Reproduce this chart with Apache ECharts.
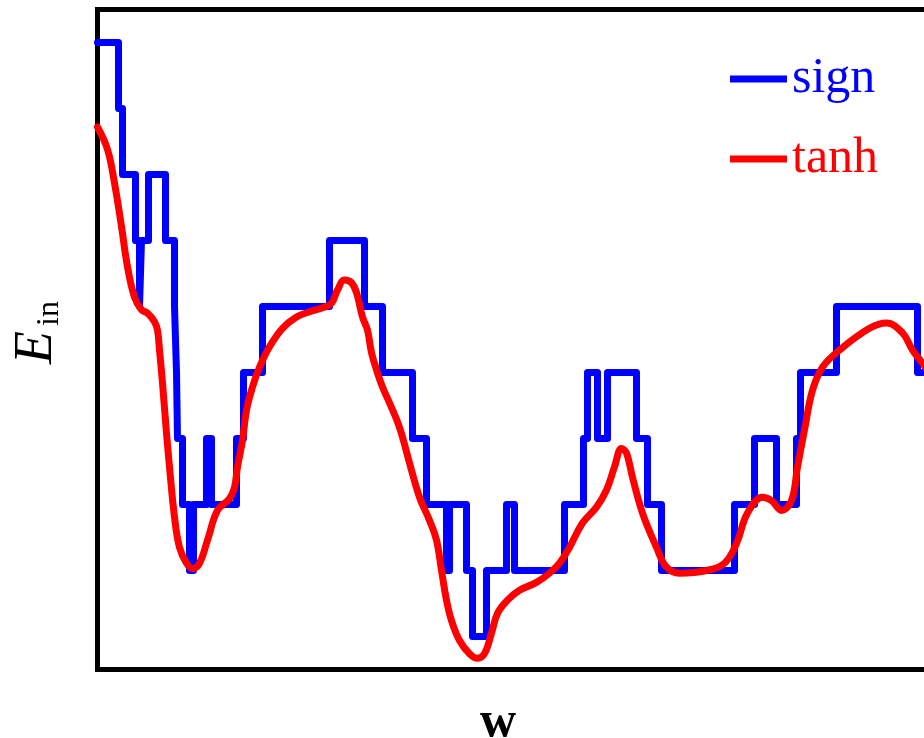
<!DOCTYPE html>
<html>
<head>
<meta charset="utf-8">
<script src="https://cdn.jsdelivr.net/npm/echarts@6/dist/echarts.min.js"></script>
<style>html,body{margin:0;padding:0;background:#fff}#c{width:924px;height:738px}</style>
</head>
<body>
<div id="c"></div>
<script>
// sign: step function, level starting at each w
const wSign = [0.00,0.21,0.25,0.38,0.42,0.44,0.51,0.68,0.77,0.79,0.80,0.85,0.92,0.96,1.09,1.14,1.39,1.46,1.65,2.32,2.67,2.85,3.15,3.29,3.49,3.52,3.69,3.75,3.89,4.09,4.17,4.67,4.86,4.90,5.00,5.10,5.39,5.50,5.64,6.37,6.57,6.79,6.99,7.03,7.39,8.20,8.62];
const eSign = [9,8,7,6,5,6,7,6,5,4,3,2,1,2,3,2,3,4,5,6,5,4,3,2,1,2,1,0,1,2,1,2,3,4,3,4,3,2,1,2,3,2,3,4,5,4,4];
// tanh: smooth curve
const wTanh = [0.00,0.10,0.17,0.24,0.30,0.37,0.44,0.50,0.57,0.60,0.62,0.65,0.69,0.72,0.77,0.82,0.89,0.95,1.02,1.10,1.20,1.32,1.37,1.40,1.45,1.49,1.55,1.62,1.72,1.85,1.99,2.12,2.25,2.34,2.40,2.47,2.54,2.59,2.65,2.70,2.74,2.79,2.85,2.92,3.02,3.12,3.22,3.32,3.39,3.44,3.49,3.54,3.62,3.72,3.80,3.87,3.94,4.00,4.10,4.22,4.39,4.52,4.62,4.72,4.85,4.99,5.09,5.17,5.24,5.29,5.35,5.45,5.59,5.69,5.82,6.09,6.27,6.39,6.50,6.65,6.74,6.84,6.94,7.00,7.07,7.15,7.25,7.42,7.72,7.89,8.05,8.15,8.25,8.37];
const eTanh = [7.72,7.38,6.87,6.21,5.60,5.14,4.95,4.90,4.77,4.64,4.34,3.84,3.08,2.57,1.81,1.35,1.11,1.03,1.11,1.46,1.91,2.09,2.26,2.57,2.97,3.43,3.78,4.08,4.39,4.67,4.84,4.92,4.98,5.05,5.25,5.40,5.36,5.21,4.84,4.64,4.30,4.04,3.78,3.54,3.17,2.63,2.11,1.76,1.46,1.00,0.55,0.24,-0.06,-0.26,-0.33,-0.26,0.05,0.35,0.55,0.70,0.82,0.96,1.11,1.35,1.72,1.96,2.22,2.57,2.85,2.78,2.41,1.87,1.35,1.05,0.96,1.00,1.11,1.41,1.87,2.11,2.06,1.91,2.06,2.57,3.13,3.73,4.08,4.34,4.67,4.75,4.60,4.34,4.14,3.89];

const chart = echarts.init(document.getElementById('c'), null, {renderer: 'canvas'});
const serif = 'Liberation Serif';
chart.setOption({
  animation: false,
  backgroundColor: '#fff',
  grid: {left: 97.5, top: 9.5, width: 862, height: 660, outerBoundsMode: 'none', containLabel: false,
         show: true, borderColor: '#000', borderWidth: 5, backgroundColor: 'transparent'},
  xAxis: {type: 'value', min: 0, max: 8.62, axisLine: {show: false}, axisTick: {show: false}, axisLabel: {show: false}, splitLine: {show: false}},
  yAxis: {type: 'value', min: -0.5, max: 9.5, axisLine: {show: false}, axisTick: {show: false}, axisLabel: {show: false}, splitLine: {show: false}},
  legend: {
    orient: 'vertical', left: 725, top: 49, itemWidth: 57, itemHeight: 7, itemGap: 30, icon: 'rect',
    textStyle: {fontFamily: serif, fontSize: 50},
    data: [{name: 'sign', textStyle: {color: '#0000ff'}}, {name: 'tanh', textStyle: {color: '#ff0000'}}]
  },
  series: [
    {name: 'sign', type: 'line', step: 'end', showSymbol: false, symbol: 'none', color: '#0000ff',
     lineStyle: {width: 7, color: '#0000ff', cap: 'round', join: 'round'},
     data: wSign.map((w, i) => [w, eSign[i]])},
    {name: 'tanh', type: 'line', smooth: 0.4, showSymbol: false, symbol: 'none', color: '#ff0000',
     lineStyle: {width: 7, color: '#ff0000', cap: 'round', join: 'round'},
     data: wTanh.map((w, i) => [w, eTanh[i]])}
  ],
  graphic: [
    {type: 'group', x: 37, y: 364, rotation: Math.PI / 2, children: [
      {type: 'text', x: 0, y: 0, style: {text: 'E', font: 'italic 54px "Liberation Serif"', fill: '#000', align: 'left', verticalAlign: 'middle'}},
      {type: 'text', x: 38, y: 13, style: {text: 'in', font: '32px "Liberation Serif"', fill: '#000', align: 'left', verticalAlign: 'middle'}}
    ]},
    {type: 'text', x: 498, y: 723, style: {text: 'w', font: 'bold 50px "Liberation Serif"', fill: '#000', align: 'center', verticalAlign: 'middle'}}
  ]
});
</script>
</body>
</html>
